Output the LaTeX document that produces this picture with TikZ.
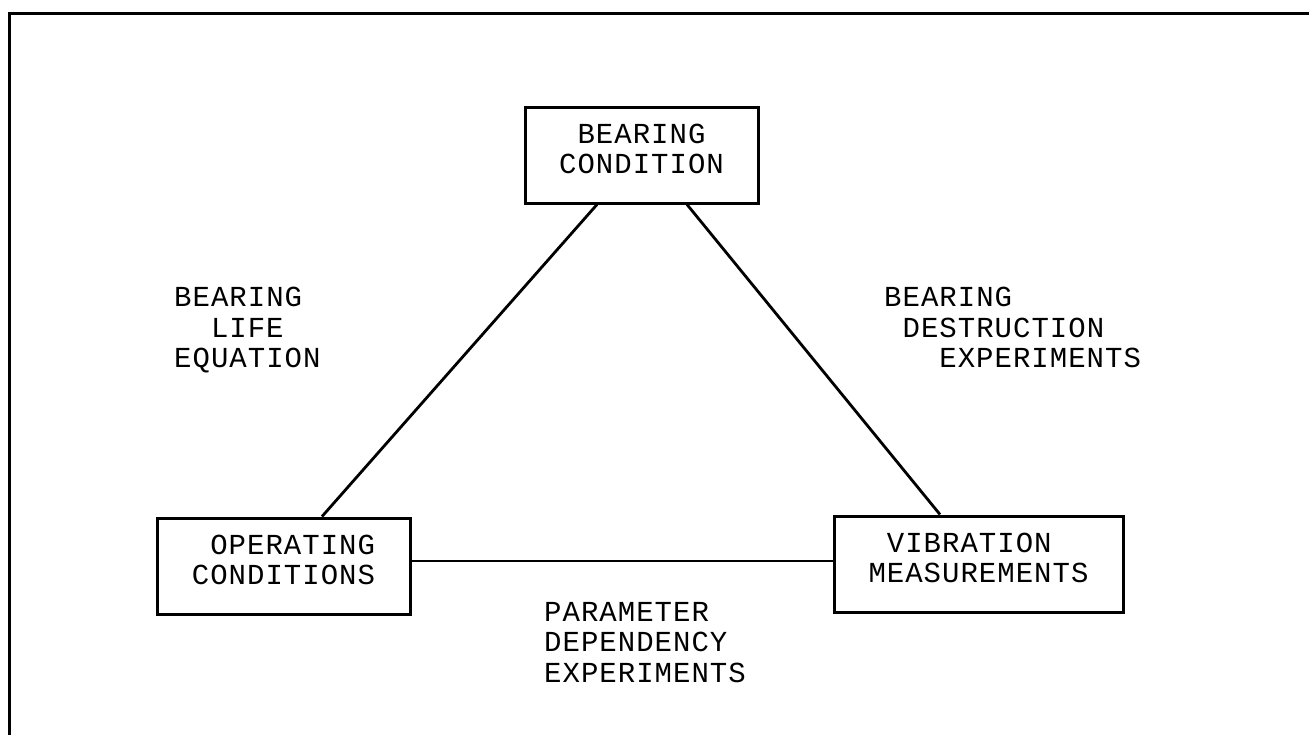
\documentclass[tikz,border=0pt]{standalone}
\usepackage{fontspec}
\setmonofont{Liberation Mono}[LetterSpace=3.5]
\usetikzlibrary{positioning}

% blank space the width of n characters
\newcommand{\skipch}[1]{\hspace*{#1\dimexpr18.4pt\relax}}
% extra depth under the last line of a box text
\newcommand{\lift}{\rule[-12pt]{0pt}{0pt}}

\tikzset{
    box/.style={draw, line width=3pt, minimum height=96pt,
        align=left, inner sep=0},
    tag/.style={align=left, inner sep=0, anchor=north west},
    link/.style={line width=2.8pt}
}

\begin{document}
\begin{tikzpicture}[x=1pt, y=-1pt,
    font=\ttfamily\fontsize{29}{30.5}\selectfont]

\useasboundingbox (0,0) rectangle (1309,734);
\clip (0,0) rectangle (1309,734);
\draw[line width=3pt] (9,760) -- (9,13) -- (1330,13);

\node[box,
    minimum width=233pt] (cond) at (641.5,155)
    {\skipch{1}BEARING\\CONDITION\lift};

\node[box,
    minimum width=253pt] (oper) at (283.5,566)
    {\skipch{1}OPERATING\\CONDITIONS\lift};

\node[box,
    minimum width=289pt] (vib) at (978.5,564)
    {\skipch{1}VIBRATION\\MEASUREMENTS\lift};

\node[tag] (life) at (174,287)
    {BEARING\\\skipch{2}LIFE\\EQUATION};

\node[tag] (destr) at (884,287)
    {BEARING\\\skipch{1}DESTRUCTION\\\skipch{3}EXPERIMENTS};

\node[tag] (param) at (544,602)
    {PARAMETER\\DEPENDENCY\\EXPERIMENTS};

\draw[link] ([xshift=-44.5pt]cond.south) -- ([xshift=38.5pt]oper.north);
\draw[link] ([xshift=45.5pt]cond.south) -- ([xshift=-38.5pt]vib.north);
\draw[link] ([yshift=5pt]oper.east) -- ([yshift=3pt]vib.west);

\end{tikzpicture}
\end{document}
